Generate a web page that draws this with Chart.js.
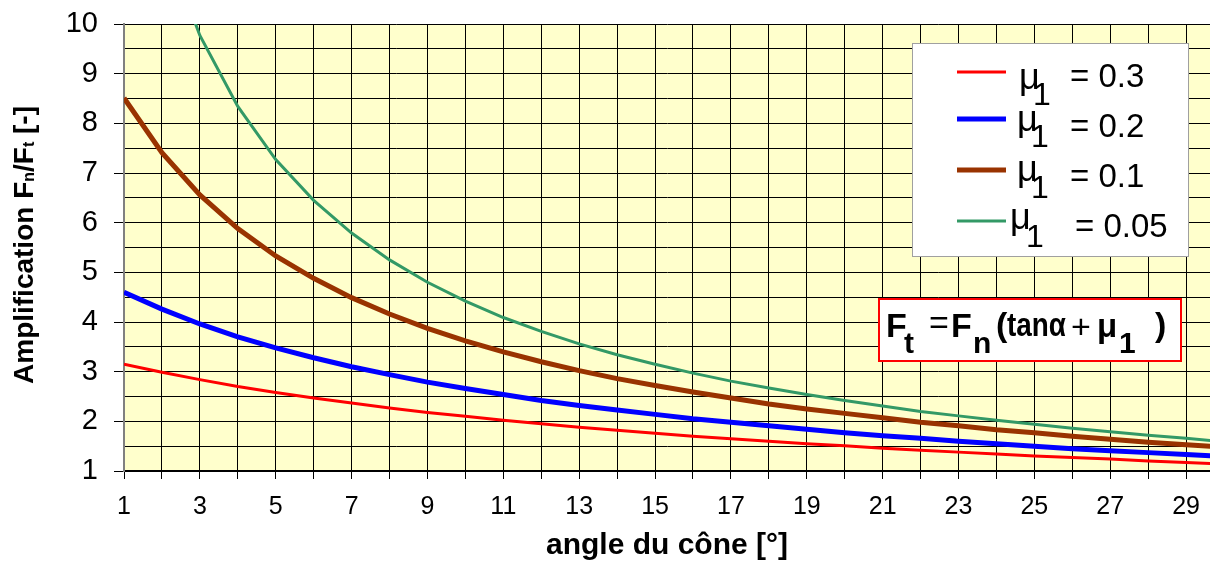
<!DOCTYPE html>
<html>
<head>
<meta charset="utf-8">
<script src="https://cdn.jsdelivr.net/npm/chart.js@4.4.1/dist/chart.umd.min.js"></script>
<style>
html,body{margin:0;padding:0;background:#ffffff;}
#wrap{width:1210px;height:562px;position:relative;}
</style>
</head>
<body>
<div id="wrap"><canvas id="c" width="1210" height="562"></canvas></div>
<script>
// Cone angle (degrees)
const angles = [1,2,3,4,5,6,7,8,9,10,11,12,13,14,15,16,17,18,19,20,21,22,23,24,25,26,27,28,29,30];
// Amplification Fn/Ft for each friction coefficient
const mu03  = [3.15,2.99,2.84,2.70,2.58,2.47,2.37,2.27,2.18,2.10,2.02,1.95,1.88,1.82,1.76,1.70,1.65,1.60,1.55,1.51,1.46,1.42,1.38,1.34,1.30,1.27,1.24,1.20,1.17,1.14];
const mu02  = [4.60,4.26,3.96,3.70,3.48,3.28,3.10,2.94,2.79,2.66,2.54,2.42,2.32,2.23,2.14,2.05,1.98,1.91,1.84,1.77,1.71,1.66,1.60,1.55,1.50,1.45,1.41,1.37,1.33,1.29];
const mu01  = [8.51,7.41,6.56,5.88,5.33,4.88,4.49,4.16,3.87,3.62,3.40,3.20,3.02,2.86,2.72,2.59,2.47,2.35,2.25,2.16,2.07,1.98,1.91,1.83,1.77,1.70,1.64,1.58,1.53,1.48];
const mu005 = [14.8,11.8,9.77,8.34,7.27,6.45,5.79,5.25,4.80,4.42,4.09,3.81,3.56,3.34,3.15,2.97,2.81,2.67,2.54,2.42,2.31,2.20,2.11,2.02,1.94,1.86,1.79,1.72,1.66,1.59];
const muValues = ['0.3','0.2','0.1','0.05'];
const yTicks = [1,2,3,4,5,6,7,8,9,10];
const xTitle = 'angle du cône [°]';

const FONT = '"Liberation Sans", Arial, sans-serif';

function pts(arr){ return angles.map((a,i)=>({x:a, y:arr[i]})); }

const bgPlugin = {
  id:'plotBg',
  beforeDraw(chart){
    const {ctx, chartArea:a} = chart;
    ctx.save();
    ctx.fillStyle = '#FFFFCC';
    ctx.fillRect(a.left, a.top, a.right-a.left, a.bottom-a.top);
    ctx.restore();
  }
};

const overlayPlugin = {
  id:'overlay',
  afterDraw(chart){
    const ctx = chart.ctx;
    ctx.save();
    // ---- Y axis title with subscripts ----
    ctx.fillStyle = '#000';
    ctx.textBaseline = 'middle';
    const big = 'bold 28px ' + FONT, small = 'bold 16px ' + FONT;
    const parts = [['Amplification F', big, 0], ['n', small, 5], ['/F', big, 0], ['t', small, 5], [' [-]', big, 0]];
    let total = 0;
    parts.forEach(p => { ctx.font = p[1]; p.push(ctx.measureText(p[0]).width); total += p[3]; });
    ctx.translate(25, 245);
    ctx.rotate(-Math.PI/2);
    let px = -total/2;
    parts.forEach(p => { ctx.font = p[1]; ctx.fillText(p[0], px, p[2]); px += p[3]; });
    ctx.setTransform(1,0,0,1,0,0);

    // ---- legend ----
    ctx.textBaseline = 'alphabetic';
    ctx.fillStyle = '#ffffff';
    ctx.fillRect(912, 43, 277, 214);
    ctx.strokeStyle = '#a0a0a0';
    ctx.lineWidth = 1;
    ctx.strokeRect(912.5, 43.5, 276, 213);
    const lineY = [72, 119, 170, 221];
    const muX = [1019, 1017, 1017, 1010];
    const muB = [89, 131, 181, 229];
    const subX = [1033, 1031, 1031, 1026];
    const subB = [105, 147, 198, 247];
    const eqX = [1070, 1070, 1070, 1075];
    const eqB = [87, 137, 187, 237];
    chart.data.datasets.forEach((ds, i) => {
      ctx.strokeStyle = ds.borderColor;
      ctx.lineWidth = ds.borderWidth;
      ctx.beginPath(); ctx.moveTo(957, lineY[i]); ctx.lineTo(1006, lineY[i]); ctx.stroke();
      ctx.fillStyle = '#000';
      ctx.font = '36px ' + FONT;
      ctx.fillText('μ', muX[i], muB[i]);
      ctx.font = '32px ' + FONT;
      ctx.fillText('1', subX[i], subB[i]);
      ctx.font = '33px ' + FONT;
      ctx.fillText('= ' + muValues[i], eqX[i], eqB[i]);
    });

    // ---- formula box ----
    ctx.fillStyle = '#ffffff';
    ctx.fillRect(878, 298, 304, 64);
    ctx.strokeStyle = '#FF0000';
    ctx.lineWidth = 2;
    ctx.strokeRect(879, 299, 302, 62);
    ctx.fillStyle = '#000';
    const fb = 'bold 34px ' + FONT, fs = 'bold 30px ' + FONT, fn = '34px ' + FONT;
    const seq = [
      ['F', fb, 886, 337], ['t', fs, 904, 353], ['=', fn, 929, 334], ['F', fb, 951, 337], ['n', fs, 973, 353],
      ['(', 'bold 34px ' + FONT, 996, 336], ['+', fn, 1071, 338],
      ['μ', 'bold 33px ' + FONT, 1097, 337], ['1', fs, 1119, 353], [')', 'bold 34px ' + FONT, 1155, 336]
    ];
    seq.forEach(s => { ctx.font = s[1]; ctx.fillText(s[0], s[2], s[3]); });
    // condensed "tanα"
    ctx.save();
    ctx.translate(1007, 336);
    ctx.scale(0.82, 1);
    ctx.font = 'bold 34px ' + FONT;
    ctx.fillText('tanα', 0, 0);
    ctx.restore();
    ctx.restore();
  }
};

new Chart(document.getElementById('c'), {
  type: 'line',
  data: {
    datasets: [
      {label:'μ1 = 0.3',  data: pts(mu03),  borderColor:'#FF0000', borderWidth:3, pointRadius:0, tension:0, fill:false, clip:0},
      {label:'μ1 = 0.2',  data: pts(mu02),  borderColor:'#0000FF', borderWidth:5, pointRadius:0, tension:0, fill:false, clip:0},
      {label:'μ1 = 0.1',  data: pts(mu01),  borderColor:'#993300', borderWidth:5, pointRadius:0, tension:0, fill:false, clip:0},
      {label:'μ1 = 0.05', data: pts(mu005), borderColor:'#339966', borderWidth:3, pointRadius:0, tension:0, fill:false, clip:0}
    ]
  },
  options: {
    responsive:false,
    animation:false,
    devicePixelRatio:1,
    layout:{padding:{top:24, right:0, left:0, bottom:0}},
    plugins:{legend:{display:false}, tooltip:{enabled:false}, title:{display:false}},
    scales:{
      x:{
        type:'linear', min:1, max:29.63,
        afterFit(s){ s.height = 91; s.paddingLeft = 0; s.paddingRight = 0; },
        ticks:{stepSize:1, includeBounds:false, autoSkip:false, maxRotation:0, padding:13,
               color:'#000', font:{family:FONT, size:25},
               callback:(v)=> (Number.isInteger(v) && v % 2 === 1) ? String(v) : ''},
        grid:{color:'#000', lineWidth:1, tickLength:8, tickColor:'#000', drawOnChartArea:true},
        border:{color:'#000', width:2},
        title:{display:true, text:xTitle, color:'#000', font:{family:FONT, size:30, weight:'bold'}, padding:{top:0,bottom:-2}}
      },
      y:{
        type:'linear', min:1, max:10,
        afterFit(s){ s.width = 124; s.paddingTop = 0; s.paddingBottom = 0; },
        ticks:{stepSize:0.5, autoSkip:false, padding:16, color:'#000', font:{family:FONT, size:29},
               callback:(v)=> yTicks.includes(v) ? String(v) : ''},
        grid:{color:'#000', lineWidth:1, tickLength:10,
              tickColor:(c)=> (c.tick && Number.isInteger(c.tick.value)) ? '#000' : 'rgba(0,0,0,0)'},
        border:{color:'#808080', width:2}
      }
    }
  },
  plugins:[bgPlugin, overlayPlugin]
});
</script>
</body>
</html>
